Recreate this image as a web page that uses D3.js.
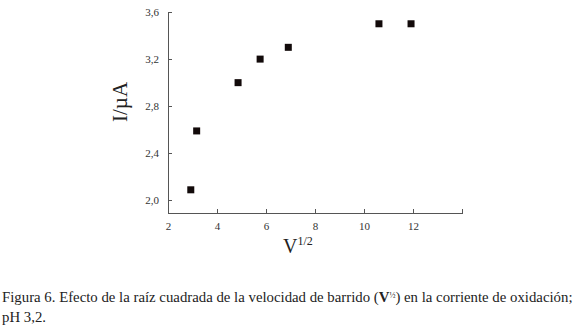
<!DOCTYPE html>
<html lang="es">
<head>
  <meta charset="UTF-8">
  <title>Figura 6</title>
  <script src="https://d3js.org/d3.v7.min.js"></script>
  <style>
    body { margin: 0; background: #fff; }
    svg { display: block; }
    .axis path, .axis line { stroke: #555; stroke-width: 1; shape-rendering: crispEdges; }
    .axis text { font-family: "Liberation Serif", serif; font-size: 11px; fill: #333; }
    .axis-label { font-family: "Liberation Serif", serif; fill: #222; }
    .caption { font-family: "Liberation Serif", serif; font-size: 14.8px; fill: #222; }
  </style>
</head>
<body>
  <svg width="575" height="330"></svg>
  <script>
    const width = 575;
    const height = 330;
    const margin = { top: 12, right: 113, bottom: 117, left: 168 };

    // Data
    const vSqrt = [2.93, 3.17, 4.86, 5.76, 6.91, 10.61, 11.92];
    const current = [2.09, 2.59, 3.0, 3.2, 3.3, 3.5, 3.5];
    const xTicks = [2, 4, 6, 8, 10, 12];
    const yTicks = [2.0, 2.4, 2.8, 3.2, 3.6];

    const points = vSqrt.map((v, i) => ({ x: v, y: current[i] }));

    const svg = d3.select("svg");

    const xScale = d3.scaleLinear()
      .domain([2, 14])
      .range([margin.left, width - margin.right]);

    const yScale = d3.scaleLinear()
      .domain([1.893, 3.6])
      .range([height - margin.bottom, margin.top]);

    const fmt = d => d3.format(".1f")(d).replace(".", ",");

    // X axis (ticks point inward)
    svg.append("g")
      .attr("class", "axis")
      .attr("transform", `translate(0,${height - margin.bottom})`)
      .call(d3.axisBottom(xScale)
        .tickValues(xTicks.concat([14]))
        .tickSizeInner(-4)
        .tickSizeOuter(0)
        .tickPadding(9)
        .tickFormat(d => d === 14 ? "" : d));

    // Y axis
    svg.append("g")
      .attr("class", "axis")
      .attr("transform", `translate(${margin.left},0)`)
      .call(d3.axisLeft(yScale)
        .tickValues(yTicks)
        .tickSizeInner(-4)
        .tickSizeOuter(0)
        .tickPadding(9)
        .tickFormat(fmt));

    // Square markers
    const s = 7;
    svg.append("g")
      .selectAll("rect")
      .data(points)
      .join("rect")
      .attr("x", d => xScale(d.x) - s / 2)
      .attr("y", d => yScale(d.y) - s / 2)
      .attr("width", s)
      .attr("height", s)
      .attr("fill", "#120a0a");

    // Axis titles
    svg.append("text")
      .attr("class", "axis-label")
      .attr("transform", `translate(127,102) rotate(-90)`)
      .attr("text-anchor", "middle")
      .style("font-size", "21px")
      .text("I/µA");

    const xl = svg.append("text")
      .attr("class", "axis-label")
      .attr("x", 283)
      .attr("y", 253)
      .style("font-size", "20px");
    xl.append("tspan").text("V");
    xl.append("tspan")
      .attr("dy", -8)
      .style("font-size", "12px")
      .text("1/2");

    // Caption
    const cap1 = svg.append("text")
      .attr("class", "caption")
      .attr("x", 2)
      .attr("y", 302);
    cap1.append("tspan").text("Figura 6. Efecto de la raíz cuadrada de la velocidad de barrido (");
    cap1.append("tspan").style("font-weight", "bold").text("V");
    cap1.append("tspan").attr("dy", -4).style("font-size", "8px").text("½");
    cap1.append("tspan").attr("dy", 4).text(") en la corriente de oxidación;");

    svg.append("text")
      .attr("class", "caption")
      .attr("x", 2)
      .attr("y", 322)
      .text("pH 3,2.");
  </script>
</body>
</html>
